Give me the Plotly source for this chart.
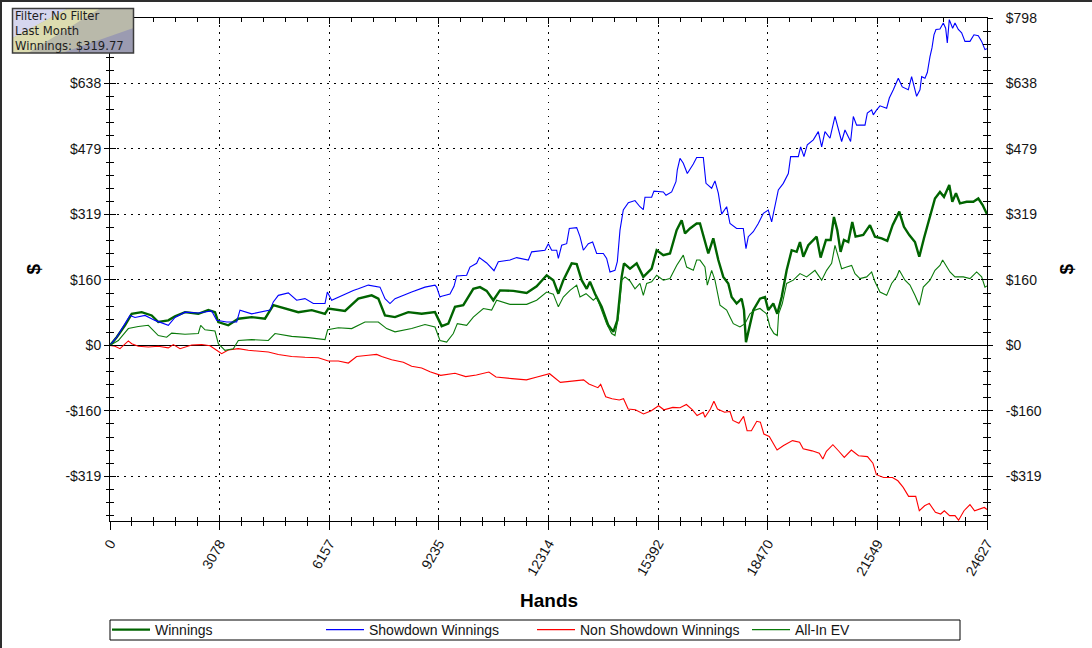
import plotly.graph_objects as go

# hands / dollar values
win_hands = [0, 188, 421, 609, 889, 1170, 1357, 1638, 1825, 2106, 2480, 2761, 2948, 3042, 3322, 3603, 3978, 4352,
             4586, 4914, 5288, 5663, 6037, 6131, 6599, 6973, 7348, 7535, 7722, 8003, 8377, 8752, 9126, 9314, 9500,
             9688, 9921, 10202, 10390, 10577, 10764, 10951, 11326, 11700, 11981, 12262, 12449, 12590, 12730, 12964,
             13105, 13245, 13386, 13478, 13619, 13806, 13993, 14134, 14246, 14368, 14433, 14602, 14789, 14976, 15210,
             15351, 15538, 15725, 15912, 16053, 16147, 16286, 16474, 16567, 16707, 16801, 16941, 17082, 17222, 17362,
             17456, 17596, 17737, 17803, 17859, 17952, 18064, 18252, 18392, 18485, 18626, 18738, 18861, 19001, 19142,
             19282, 19375, 19469, 19609, 19843, 19955, 20105, 20236, 20329, 20422, 20516, 20610, 20731, 20844, 20937,
             21152, 21341, 21481, 21668, 21827, 21977, 22164, 22295, 22445, 22604, 22726, 22857, 23026, 23166, 23306,
             23419, 23568, 23653, 23756, 23868, 24056, 24243, 24383, 24505, 24627]
win_usd = [0, 20, 49, 77, 81, 73, 57, 61, 71, 81, 77, 86, 81, 57, 49, 65, 69, 65,
           98, 90, 81, 86, 77, 90, 84, 114, 122, 114, 73, 69, 81, 77, 81, 47, 53,
           94, 98, 138, 142, 133, 110, 134, 133, 128, 144, 171, 159, 126, 159, 200,
           198, 159, 138, 155, 126, 94, 49, 33, 61, 167, 200, 187, 200, 167, 187,
           232, 220, 224, 281, 305, 273, 285, 297, 297, 257, 224, 261, 208, 167, 151,
           118, 102, 114, 86, 8, 45, 86, 114, 118, 86, 102, 77, 118, 183, 232,
           228, 252, 216, 244, 265, 214, 257, 257, 313, 281, 228, 257, 252, 301, 265,
           269, 293, 265, 261, 255, 293, 326, 289, 269, 252, 216, 261, 318, 358, 374,
           362, 391, 350, 371, 346, 350, 350, 358, 342, 319.77]

sd_hands = [0, 188, 421, 562, 702, 983, 1264, 1638, 1825, 2106, 2480, 2855, 2995, 3276, 3557, 3650, 3978, 4259,
            4493, 4586, 4727, 5007, 5241, 5475, 5710, 6037, 6103, 6224, 6412, 6599, 6832, 6973, 7254, 7582, 7722,
            7862, 8003, 8471, 8845, 9126, 9173, 9266, 9314, 9547, 9660, 9735, 10015, 10109, 10296, 10371, 10577,
            10783, 10904, 11232, 11420, 11747, 11841, 12215, 12309, 12402, 12543, 12590, 12683, 12824, 12898, 13105,
            13198, 13292, 13432, 13553, 13666, 13853, 13946, 14040, 14180, 14246, 14321, 14414, 14555, 14742, 14882,
            14976, 15023, 15210, 15275, 15538, 15613, 15772, 15893, 15931, 16006, 16099, 16211, 16380, 16474, 16661,
            16736, 16895, 16988, 17082, 17176, 17316, 17410, 17596, 17784, 17859, 17924, 18064, 18205, 18346, 18485,
            18580, 18767, 18907, 19048, 19113, 19328, 19394, 19487, 19581, 19750, 19890, 19984, 20077, 20218, 20358,
            20451, 20545, 20639, 20797, 20873, 20966, 21201, 21266, 21388, 21434, 21528, 21622, 21809, 21884, 21996,
            22136, 22248, 22417, 22510, 22576, 22651, 22745, 22792, 22885, 22951, 23026, 23082, 23138, 23194, 23306,
            23400, 23466, 23512, 23568, 23662, 23728, 23821, 23915, 24008, 24149, 24261, 24383, 24477, 24570, 24627]
sd_usd = [0, 20, 53, 73, 68, 73, 61, 49, 68, 81, 79, 84, 61, 57, 57, 86, 77, 81,
          86, 106, 122, 128, 110, 114, 102, 102, 130, 110, 118, 126, 134, 138, 147, 142, 114,
          102, 114, 130, 142, 147, 142, 118, 120, 125, 144, 169, 171, 191, 200, 214, 201,
          182, 204, 208, 214, 208, 228, 232, 248, 232, 232, 212, 244, 248, 285, 287,
          265, 232, 248, 252, 224, 224, 212, 179, 183, 204, 281, 330, 348, 353, 338,
          331, 361, 361, 376, 374, 366, 374, 399, 428, 456, 444, 419, 442, 458, 458,
          395, 383, 401, 371, 320, 338, 297, 285, 285, 236, 265, 277, 297, 322, 330,
          301, 379, 395, 419, 460, 460, 484, 460, 489, 501, 521, 484, 521, 505, 558,
          529, 497, 525, 497, 558, 537, 537, 566, 574, 562, 574, 584, 578, 603, 623,
          651, 630, 623, 655, 635, 607, 623, 655, 651, 665, 704, 725, 757, 770, 771,
          786, 773, 737, 794, 773, 786, 770, 762, 741, 741, 757, 755, 741, 721, 723]

nsd_hands = [0, 140, 281, 374, 515, 609, 796, 1076, 1357, 1638, 1778, 1966, 2106, 2293, 2574, 2808, 2995, 3135,
             3322, 3603, 3884, 4165, 4446, 4727, 5101, 5475, 5850, 6131, 6412, 6693, 6926, 7254, 7488, 7629, 7909,
             8237, 8471, 8752, 8986, 9286, 9688, 9989, 10289, 10640, 10839, 11288, 11693, 11993, 12344, 12647, 12998,
             13299, 13448, 13701, 13779, 13920, 14099, 14301, 14420, 14550, 14752, 14982, 15201, 15405, 15554, 15806,
             16006, 16185, 16357, 16486, 16657, 16707, 16860, 16958, 17059, 17258, 17410, 17491, 17659, 17792, 17890,
             18011, 18162, 18263, 18361, 18513, 18732, 18915, 19165, 19364, 19465, 19715, 19917, 20017, 20117, 20299,
             20468, 20619, 20818, 21020, 21271, 21423, 21521, 21723, 21973, 22125, 22274, 22426, 22626, 22726, 22875,
             23007, 23178, 23327, 23428, 23577, 23728, 23829, 23981, 24149, 24278, 24430, 24551, 24627]
nsd_usd = [0, -2, -8, 0, 11, 4, -2, -4, -2, -6, 2, -8, -4, 1, 2, -1, -12, -20,
           -11, -8, -12, -14, -16, -22, -27, -29, -30, -38, -38, -43, -27, -24, -22, -27, -35,
           -41, -51, -55, -64, -73, -68, -76, -72, -65, -77, -81, -84, -77, -69, -90, -87,
           -84, -94, -103, -95, -125, -130, -133, -130, -155, -157, -167, -159, -147, -157, -151,
           -152, -144, -157, -171, -163, -175, -155, -136, -155, -163, -161, -183, -190, -173, -208,
           -208, -185, -187, -216, -222, -255, -244, -232, -236, -252, -257, -263, -277, -258, -242,
           -258, -273, -255, -269, -271, -287, -315, -322, -322, -330, -346, -368, -368, -403, -391,
           -385, -407, -411, -403, -415, -415, -426, -403, -388, -403, -399, -395, -400]

ev_hands = [0, 234, 515, 796, 1076, 1357, 1591, 1732, 2106, 2480, 2546, 2668, 2948, 3042, 3229, 3463, 3603, 3978,
            4446, 4633, 5101, 5569, 6037, 6112, 6412, 6786, 7160, 7535, 7769, 8003, 8471, 8845, 9126, 9266, 9454,
            9641, 9753, 10015, 10202, 10483, 10717, 10858, 11232, 11700, 11981, 12262, 12449, 12590, 12730, 12917,
            13105, 13198, 13367, 13572, 13666, 13806, 13946, 14087, 14180, 14274, 14368, 14461, 14602, 14742, 14882,
            14976, 15070, 15210, 15351, 15538, 15725, 15912, 16099, 16193, 16380, 16474, 16567, 16707, 16773, 16895,
            16988, 17129, 17316, 17410, 17503, 17690, 17831, 17971, 18112, 18252, 18439, 18533, 18645, 18738, 18776,
            18879, 19001, 19188, 19375, 19562, 19796, 19984, 20123, 20264, 20358, 20451, 20545, 20686, 20826, 20920,
            21060, 21248, 21388, 21481, 21622, 21809, 21949, 22089, 22164, 22324, 22464, 22604, 22726, 22838, 23026,
            23166, 23306, 23381, 23494, 23587, 23728, 23962, 24149, 24336, 24477, 24570, 24627]
ev_usd = [0, 12, 41, 46, 49, 24, 20, 30, 27, 29, 49, 38, 35, 4, -12, -8, 12, 14,
          12, 29, 22, 19, 14, 38, 43, 41, 57, 57, 41, 33, 41, 51, 45, 12, 8,
          29, 53, 49, 69, 90, 86, 110, 100, 100, 110, 130, 125, 94, 118, 134,
          147, 118, 126, 110, 118, 86, 53, 29, 24, 69, 159, 167, 157, 138, 151,
          122, 151, 155, 171, 159, 163, 195, 220, 191, 183, 208, 208, 191, 147, 183,
          159, 98, 86, 69, 53, 45, 53, 77, 86, 90, 77, 45, 29, 24, 77,
          102, 151, 159, 175, 167, 183, 159, 183, 200, 244, 216, 187, 191, 195, 175,
          163, 167, 179, 155, 130, 122, 151, 167, 183, 159, 147, 122, 98, 142, 159,
          183, 195, 208, 191, 179, 167, 167, 163, 179, 167, 142, 145]

x_tickvals = [0, 3078.375, 6156.75, 9235.125, 12313.5, 15391.875, 18470.25, 21548.625, 24627]
x_ticktext = ["0", "3078", "6157", "9235", "12314", "15392", "18470", "21549", "24627"]
y_tickvals = [-319.2, -159.6, 0, 159.6, 319.2, 478.8, 638.4, 798]
y_ticktext = ["-$319", "-$160", "$0", "$160", "$319", "$479", "$638", "$798"]
# on the left the top label sits under the info box, so it is left blank there
y_ticktext_left = y_ticktext[:-1] + [""]

info_lines = ["Filter: No Filter", "Last Month", "Winnings: $319.77"]

W, H = 1092, 648
L, R, T, B = 110, 987, 18, 521
FONT = "Liberation Sans, Arial, sans-serif"
DOTS = "1.5px,5.5px"


def px(x):
    return (x - L) / (R - L)


def py(y):
    return (B - y) / (B - T)


def poly(pts):
    return "M " + " L ".join("%f,%f" % (px(a), py(b)) for a, b in pts) + " Z"


fig = go.Figure()
fig.add_trace(go.Scatter(x=win_hands, y=win_usd, name="Winnings", mode="lines", legendwidth=161,
                         line=dict(color="#006400", width=2.4)))
fig.add_trace(go.Scatter(x=sd_hands, y=sd_usd, name="Showdown Winnings", mode="lines", legendwidth=158,
                         line=dict(color="#0000ff", width=1.1)))
fig.add_trace(go.Scatter(x=nsd_hands, y=nsd_usd, name="Non Showdown Winnings", mode="lines", legendwidth=162,
                         line=dict(color="#ff0000", width=1.1)))
fig.add_trace(go.Scatter(x=ev_hands, y=ev_usd, name="All-In EV", mode="lines", legendwidth=110,
                         line=dict(color="#0a7a0a", width=1.1), xaxis="x2", yaxis="y2"))

xr = [0, 24627]
yr = [-428, 798]
common_x = dict(range=xr, tickvals=x_tickvals, ticktext=x_ticktext, tickcolor="black",
                showline=True, linecolor="black", linewidth=1, zeroline=False, fixedrange=True,
                automargin=False)
common_y = dict(range=yr, tickvals=y_tickvals, tickcolor="black",
                showline=True, linecolor="black", linewidth=1, fixedrange=True, automargin=False)

fig.update_layout(
    width=W, height=H,
    margin=dict(l=L, r=W - R, t=T, b=H - B, autoexpand=False),
    paper_bgcolor="white", plot_bgcolor="white",
    font=dict(family=FONT, size=14, color="#141414"),
    xaxis=dict(**common_x, tickangle=-60, ticks="outside", ticklen=8, mirror=True,
               showgrid=True, gridcolor="black", gridwidth=1, griddash=DOTS,
               tickfont=dict(size=14),
               minor=dict(tickmode="linear", tick0=0, dtick=615.675, ticks="outside",
                          ticklen=4, tickcolor="black", showgrid=False)),
    xaxis2=dict(**common_x, overlaying="x", side="bottom", showticklabels=False,
                ticks="inside", ticklen=6, mirror="allticks", showgrid=False,
                minor=dict(tickmode="linear", tick0=0, dtick=615.675, ticks="inside",
                           ticklen=4, tickcolor="black", showgrid=False)),
    yaxis=dict(**common_y, ticktext=y_ticktext_left, side="left", ticks="outside", ticklen=5,
               mirror="allticks",
               showgrid=True, gridcolor="black", gridwidth=1, griddash=DOTS,
               zeroline=True, zerolinecolor="black", zerolinewidth=1,
               tickfont=dict(size=14),
               minor=dict(tickmode="linear", tick0=0, dtick=31.92, ticks="outside",
                          ticklen=3, tickcolor="black", showgrid=False)),
    yaxis2=dict(**common_y, ticktext=y_ticktext, overlaying="y", side="right", ticks="inside",
                ticklen=6, mirror="allticks", showgrid=False, zeroline=False, ticklabelstandoff=15,
                tickfont=dict(size=14),
                minor=dict(tickmode="linear", tick0=0, dtick=31.92, ticks="inside",
                           ticklen=4, tickcolor="black", showgrid=False)),
    showlegend=True,
    legend=dict(orientation="h", x=px(107), xanchor="left", y=py(614), yanchor="top",
                bgcolor="rgba(0,0,0,0)", borderwidth=0,
                font=dict(family=FONT, size=14, color="#141414"),
                entrywidth=156, entrywidthmode="pixels", itemwidth=38,
                traceorder="normal"),
)

# legend frame
fig.add_shape(type="rect", xref="paper", yref="paper", layer="above",
              x0=px(110), x1=px(960), y0=py(640), y1=py(620),
              fillcolor="white", line=dict(color="black", width=1))

# window border (top and left edges)
fig.add_shape(type="line", xref="paper", yref="paper", x0=px(0), x1=px(W), y0=py(1), y1=py(1),
              line=dict(color="#2e2e2e", width=2), layer="above")
fig.add_shape(type="line", xref="paper", yref="paper", x0=px(1), x1=px(1), y0=py(0), y1=py(H),
              line=dict(color="#2e2e2e", width=2), layer="above")

# info box with its diagonal shaded background
bx0, bx1, by0, by1 = 12.5, 133.5, 8.5, 53
fig.add_shape(type="path", xref="paper", yref="paper", layer="above",
              path=poly([(bx0, by0), (bx1, by0), (bx1, by1), (bx0, by1)]),
              fillcolor="#b9b9aa", line=dict(width=0))
fig.add_shape(type="path", xref="paper", yref="paper", layer="above",
              path=poly([(bx0, by0), (68, by0), (bx0, 38)]),
              fillcolor="#d6d6ee", line=dict(width=0))
fig.add_shape(type="path", xref="paper", yref="paper", layer="above",
              path=poly([(68, by0), (100, by0), (28, by1), (bx0, by1), (bx0, 38)]),
              fillcolor="#dcdcb0", line=dict(width=0))
fig.add_shape(type="path", xref="paper", yref="paper", layer="above",
              path=poly([(62, by1), (bx1, 28), (bx1, by1)]),
              fillcolor="#9b9bb1", line=dict(width=0))
fig.add_shape(type="rect", xref="paper", yref="paper", layer="above",
              x0=px(bx0), x1=px(bx1), y0=py(by1), y1=py(by0),
              line=dict(color="#3c3c3c", width=1.5))
fig.add_annotation(text="<br>".join(info_lines), xref="paper", yref="paper", x=px(13), y=py(7),
                   xanchor="left", yanchor="top", align="left", showarrow=False,
                   font=dict(family="DejaVu Sans, Verdana, sans-serif", size=11.6, color="#1e1e1e"))

# axis titles
fig.add_annotation(text="Hands", xref="paper", yref="paper", x=0.5, y=py(600),
                   showarrow=False, xanchor="center", yanchor="middle",
                   font=dict(family=FONT, size=19, color="black", weight="bold"))
for xpos in (33, 1066):
    fig.add_annotation(text="$", xref="paper", yref="paper", x=px(xpos), y=0.5, textangle=-90,
                       showarrow=False, xanchor="center", yanchor="middle",
                       font=dict(family=FONT, size=19, color="black", weight="bold"))

# the page's default 8px body margin would shift the whole chart
fig.write_html("out.html", config={"displayModeBar": False},
               post_script="document.body.style.margin='0';")
